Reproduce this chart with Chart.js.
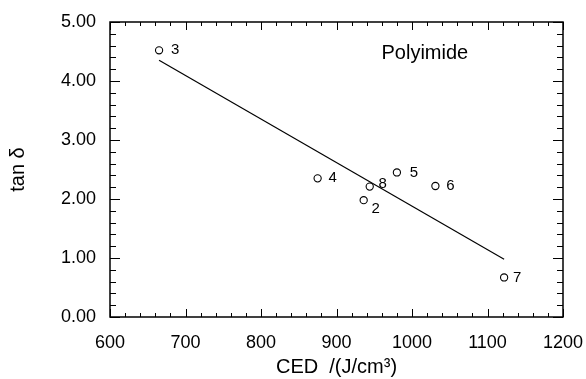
<!DOCTYPE html>
<html>
<head>
<meta charset="utf-8">
<script src="https://cdn.jsdelivr.net/npm/chart.js@4.4.1/dist/chart.umd.min.js"></script>
<style>
  html, body { margin: 0; padding: 0; background: #fff; }
  #wrap { width: 586px; height: 379px; }
</style>
</head>
<body>
<div id="wrap"><canvas id="chart"></canvas></div>
<script>
const sampleIds = ["3", "4", "8", "5", "6", "2", "7"];
const cedValues = [665, 875, 944, 980, 1031, 936, 1122];
const tanDelta = [4.52, 2.35, 2.21, 2.45, 2.22, 1.98, 0.67];
const fitX = [665, 1122];
const fitY = [4.35, 0.98];

const FONT = "'Liberation Sans', Arial, Helvetica, sans-serif";

// label offsets next to each marker (px)
const labelShift = {
  "3": [16, 0], "4": [15, 0], "8": [13, -3], "5": [17, 0],
  "6": [15, 0], "2": [12, 9], "7": [13, 0],
};

const framePlugin = {
  id: "frame",
  afterDraw(chart) {
    const { ctx, chartArea: a, scales } = chart;
    const x = scales.x, y = scales.y;
    ctx.save();
    ctx.strokeStyle = "#000";
    ctx.lineWidth = 1.5;
    ctx.strokeRect(a.left, a.top, a.right - a.left, a.bottom - a.top);
    ctx.lineWidth = 1;
    ctx.beginPath();
    for (let v = 600; v <= 1200; v += 20) {
      const px = Math.round(x.getPixelForValue(v)) + 0.5;
      const len = v % 100 === 0 ? 8 : 4;
      ctx.moveTo(px, a.bottom); ctx.lineTo(px, a.bottom - len);
      ctx.moveTo(px, a.top); ctx.lineTo(px, a.top + len);
    }
    for (let i = 0; i <= 25; i++) {
      const v = i * 0.2;
      const py = Math.round(y.getPixelForValue(v)) + 0.5;
      const len = i % 5 === 0 ? 10 : 6;
      ctx.moveTo(a.left, py); ctx.lineTo(a.left + len, py);
      ctx.moveTo(a.right, py); ctx.lineTo(a.right - len, py);
    }
    ctx.stroke();

    ctx.fillStyle = "#000";
    ctx.font = "15px " + FONT;
    ctx.textBaseline = "middle";
    ctx.textAlign = "center";
    sampleIds.forEach((id, i) => {
      const s = labelShift[id];
      ctx.fillText(id, x.getPixelForValue(cedValues[i]) + s[0], y.getPixelForValue(tanDelta[i]) + s[1]);
    });

    ctx.font = "20px " + FONT;
    ctx.fillText("Polyimide", x.getPixelForValue(1017), y.getPixelForValue(4.47));
    ctx.restore();
  },
};

new Chart(document.getElementById("chart"), {
  type: "scatter",
  data: {
    datasets: [
      {
        label: "samples",
        data: cedValues.map((v, i) => ({ x: v, y: tanDelta[i] })),
        pointStyle: "circle",
        pointRadius: 3.6,
        pointBorderWidth: 1.1,
        pointBorderColor: "#000",
        pointBackgroundColor: "#fff",
      },
      {
        label: "fit",
        type: "line",
        data: fitX.map((v, i) => ({ x: v, y: fitY[i] })),
        borderColor: "#000",
        borderWidth: 1.2,
        pointRadius: 0,
        fill: false,
      },
    ],
  },
  options: {
    responsive: true,
    maintainAspectRatio: false,
    animation: false,
    layout: { padding: { left: 0, top: 22, right: 23, bottom: 0 } },
    plugins: {
      legend: { display: false },
      tooltip: { enabled: false },
    },
    scales: {
      x: {
        type: "linear",
        min: 600,
        max: 1200,
        afterFit(s) { s.height = 62; s.paddingLeft = 0; s.paddingRight = 0; },
        ticks: {
          stepSize: 100,
          color: "#000",
          padding: 15,
          font: { family: FONT, size: 18 },
          callback: (v) => String(v),
        },
        grid: { display: false, drawTicks: false },
        border: { display: false },
        title: {
          display: true,
          text: "CED  /(J/cm³)",
          color: "#000",
          font: { family: FONT, size: 20 },
          padding: { top: 0, bottom: 0 },
        },
      },
      y: {
        type: "linear",
        min: 0,
        max: 5,
        afterFit(s) { s.width = 110; s.paddingTop = 0; s.paddingBottom = 0; },
        ticks: {
          stepSize: 1,
          color: "#000",
          padding: 14,
          font: { family: FONT, size: 18 },
          callback: (v) => v.toFixed(2),
        },
        grid: { display: false, drawTicks: false },
        border: { display: false },
        title: {
          display: true,
          text: "tan δ",
          color: "#000",
          font: { family: FONT, size: 20 },
          padding: { top: 6, bottom: 0 },
        },
      },
    },
  },
  plugins: [framePlugin],
});
</script>
</body>
</html>
